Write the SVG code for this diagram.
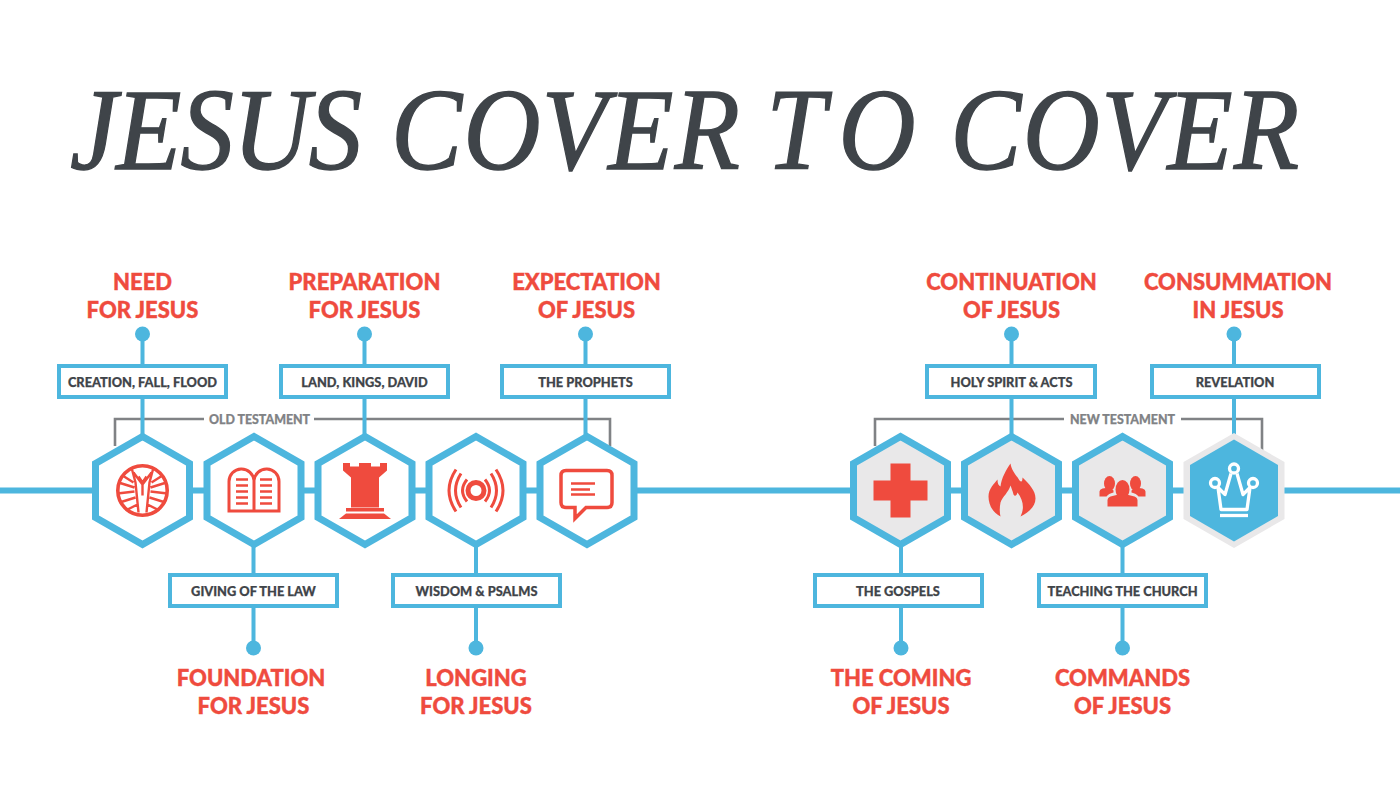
<svg xmlns="http://www.w3.org/2000/svg" width="1400" height="788" viewBox="0 0 1400 788">
<style>
.title{font-family:"Liberation Serif",serif;font-style:italic;font-size:116px;fill:#3f4449;stroke:#3f4449;stroke-width:1.400}
.h{font-family:Lato,"Liberation Sans",sans-serif;font-weight:900;font-size:22px;fill:#ef4b3e;stroke:#ef4b3e;stroke-width:.4;text-anchor:middle}
.b{font-family:Lato,"Liberation Sans",sans-serif;font-weight:900;font-size:12.800px;fill:#3f4449;stroke:#3f4449;stroke-width:.25;text-anchor:middle}
.t{font-family:Lato,"Liberation Sans",sans-serif;font-weight:900;font-size:12.400px;fill:#808285;stroke:#808285;stroke-width:.25;text-anchor:middle}
.hex{fill:#fff;stroke:#4db6de;stroke-width:7}
.hg{fill:#e9e8e9;stroke:#4db6de;stroke-width:7}
.box{fill:#fff;stroke:#4db6de;stroke-width:4}
.c{fill:none;stroke:#4db6de;stroke-width:4}
.main{fill:none;stroke:#4db6de;stroke-width:6}
.br{fill:none;stroke:#808285;stroke-width:2.600}
.dot{fill:#4db6de}
.r{fill:#ef4b3e}
.rs{fill:none;stroke:#ef4b3e;stroke-width:2.400}
.rl{fill:none;stroke:#ef4b3e;stroke-width:3}
.ws{fill:none;stroke:#fff;stroke-width:3.300}
</style>
<defs>
<polygon id="hx" points="0,-54 47,-27 47,27 0,54 -47,27 -47,-27"/>
</defs>
<text class="title" transform="scale(.92 1)" y="169"><tspan x="76" letter-spacing="-1.100">JESUS</tspan> <tspan x="425" letter-spacing="1.400">COVER</tspan> <tspan x="833" letter-spacing="16">TO</tspan> <tspan x="1033" letter-spacing="1.400">COVER</tspan></text>

<g id="connectors">
<path class="main" d="M0 490.500H1400"/>
<path class="br" d="M115 446V419H204M314 419H610V446"/>
<path class="br" d="M875 446V419H1064M1181 419H1262V450"/>
<path class="c" d="M142.500 334V436M364.500 334V436M585.500 334V436M1011.500 334V436M1234 334V436"/>
<path class="c" d="M253.500 545V648M476 545V648M901 545V648M1122.500 545V648"/>
<circle class="dot" cx="142.500" cy="334" r="7.500"/><circle class="dot" cx="364.500" cy="334" r="7.500"/><circle class="dot" cx="585.500" cy="334" r="7.500"/><circle class="dot" cx="1011.500" cy="334" r="7.500"/><circle class="dot" cx="1234" cy="334" r="7.500"/>
<circle class="dot" cx="253.500" cy="648" r="7.500"/><circle class="dot" cx="476" cy="648" r="7.500"/><circle class="dot" cx="901" cy="648" r="7.500"/><circle class="dot" cx="1122.500" cy="648" r="7.500"/>
</g>
<text class="t" x="259.500" y="423.500">OLD TESTAMENT</text>
<text class="t" x="1122.500" y="423.500">NEW TESTAMENT</text>

<g id="need"><text class="h" x="142.500" y="290">NEED</text><text class="h" x="142.500" y="318">FOR JESUS</text><rect class="box" x="59" y="366" width="167" height="31"/><text class="b" x="142.500" y="386.500">CREATION, FALL, FLOOD</text></g>
<g id="preparation"><text class="h" x="364.500" y="290">PREPARATION</text><text class="h" x="364.500" y="318">FOR JESUS</text><rect class="box" x="281" y="366" width="167" height="31"/><text class="b" x="364.500" y="386.500">LAND, KINGS, DAVID</text></g>
<g id="expectation"><text class="h" x="586.500" y="290">EXPECTATION</text><text class="h" x="586.500" y="318">OF JESUS</text><rect class="box" x="502" y="366" width="167" height="31"/><text class="b" x="585.500" y="386.500">THE PROPHETS</text></g>
<g id="continuation"><text class="h" x="1011.500" y="290">CONTINUATION</text><text class="h" x="1011.500" y="318">OF JESUS</text><rect class="box" x="927" y="366" width="168" height="31"/><text class="b" x="1011.500" y="386.500">HOLY SPIRIT &amp; ACTS</text></g>
<g id="consummation"><text class="h" x="1238" y="290">CONSUMMATION</text><text class="h" x="1238" y="318">IN JESUS</text><rect class="box" x="1152" y="366" width="167" height="31"/><text class="b" x="1235" y="386.500">REVELATION</text></g>
<g id="foundation"><rect class="box" x="170" y="575" width="167" height="31"/><text class="b" x="253.500" y="595.500">GIVING OF THE LAW</text><text class="h" x="251" y="686">FOUNDATION</text><text class="h" x="253.500" y="714">FOR JESUS</text></g>
<g id="longing"><rect class="box" x="393" y="575" width="167" height="31"/><text class="b" x="476.500" y="595.500">WISDOM &amp; PSALMS</text><text class="h" x="476" y="686">LONGING</text><text class="h" x="476" y="714">FOR JESUS</text></g>
<g id="coming"><rect class="box" x="815" y="575" width="167" height="31"/><text class="b" x="898" y="595.500">THE GOSPELS</text><text class="h" x="901" y="686">THE COMING</text><text class="h" x="901" y="714">OF JESUS</text></g>
<g id="commands"><rect class="box" x="1039" y="575" width="167" height="31"/><text class="b" x="1122.500" y="595.500">TEACHING THE CHURCH</text><text class="h" x="1122.500" y="686">COMMANDS</text><text class="h" x="1122.500" y="714">OF JESUS</text></g>

<g id="hex-creation" transform="translate(142.500 490.500)"><use href="#hx" class="hex"/>
<circle class="rl" r="24.700" style="stroke-width:3.600"/>
<path class="rs" d="M-11-23L-7-8L-4 22M11-23L7-8L4 22M-9-18L0-6L9-18M0-6V5M-4-14L0-8L4-14M-24-8L-8-3M-25 3L-8 1M-23 12L-7 7M-17 20L-5 14M24-8L8-3M25 3L8 1M23 12L7 7M17 20L5 14M-20-15L-9-8M20-15L9-8"/>
</g>
<g id="hex-law" transform="translate(254 490.500)"><use href="#hx" class="hex"/>
<path class="rl" d="M0 20.500V-10A12.500 12.500 0 0 0-12.500-21.500H-13A12.500 12.500 0 0 0-25-9V20.500ZM0 20.500V-10A12.500 12.500 0 0 1 12.500-21.500H13A12.500 12.500 0 0 1 25-9V20.500Z"/>
<path class="rs" d="M-18-11H-6M-18-5H-6M-18 1H-6M-18 7H-6M-18 13H-6M6-11H18M6-5H18M6 1H18M6 7H18M6 13H18"/>
</g>
<g id="hex-rook" transform="translate(365 490.500)"><use href="#hx" class="hex"/>
<path class="r" d="M-22-27.500H-15V-24H-6V-27.500H6V-24H15V-27.500H22V-20L14-13V17H-14V-13L-22-20Z"/>
<rect class="r" x="-19" y="17.500" width="38" height="3.500"/>
<path class="r" d="M-19 23H19L26 28.500H-26Z"/>
</g>
<g id="hex-wisdom" transform="translate(476 490.500)"><use href="#hx" class="hex"/>
<circle class="rl" r="8" style="stroke-width:5"/>
<path class="rl" d="M-9-11Q-18 0-9 11M9-11Q18 0 9 11M-15-17Q-26 0-15 17M15-17Q26 0 15 17M-20-21Q-34 0-20 21M20-21Q34 0 20 21"/>
</g>
<g id="hex-prophets" transform="translate(587 490.500)"><use href="#hx" class="hex"/>
<path class="rl" style="stroke-width:3.500" d="M-21-20H20Q25-20 25-15V12Q25 17 20 17H-1L-12 28V17H-21Q-26 17-26 12V-15Q-26-20-21-20Z"/>
<path class="rs" d="M-16-7H8M-16-1H3M-16 4H8"/>
</g>
<g id="hex-gospels" transform="translate(900.500 490.500)"><use href="#hx" class="hg"/>
<path class="r" d="M-10-27H10V-10H27V10H10V27H-10V10H-27V-10H-10Z"/>
</g>
<g id="hex-spirit" transform="translate(1011.500 490.500)"><use href="#hx" class="hg"/>
<path class="r" d="M-11 26C-19 22-23 14-23 6C-23-2-17-7-14-11C-14-7-13-5-11-4C-10-13-5-21-1-27C0-20 5-15 8-10C10-8 11-9 11-13C18-6 24 0 24 8C24 16 17 22 9 26C13 18 12 10 6 2C5 6 3 6 2 4C1 0 0-2-1-5C-3 2-9 6-11 12C-12 17-12 22-11 26Z"/>
</g>
<g id="hex-church" transform="translate(1122.500 490.500)"><use href="#hx" class="hg"/>
<ellipse class="r" cx="0" cy="-1" rx="7" ry="9.500"/>
<path class="r" d="M-15 16V10Q-15 7-12 6L-4 4H4L12 6Q15 7 15 10V16Z"/>
<ellipse class="r" cx="-13" cy="-7" rx="5.500" ry="7.500"/>
<ellipse class="r" cx="13" cy="-7" rx="5.500" ry="7.500"/>
<path class="r" d="M-23 6V1Q-23-1-20-2L-13-3L-9 0V2Q-14 3-16 6ZM23 6V1Q23-1 20-2L13-3L9 0V2Q14 3 16 6Z"/>
</g>
<g id="hex-revelation" transform="translate(1234 490.500)">
<polygon points="0,-57.500 50.500,-28.500 50.500,28.500 0,57.500 -50.500,28.500 -50.500,-28.500" fill="#e9e8e9"/>
<polygon points="0,-51 44,-25.500 44,25.500 0,51 -44,25.500 -44,-25.500" fill="#4db6de"/>
<path class="ws" stroke-linejoin="round" d="M-3-17L-9 4L-16-3L-13 19H13L16-3L9 4L3-17"/>
<path class="ws" d="M-14 25H14"/>
<circle class="ws" cx="0" cy="-22" r="4.500"/><circle class="ws" cx="-19" cy="-7.500" r="4.500"/><circle class="ws" cx="19" cy="-7.500" r="4.500"/>
</g>
</svg>
